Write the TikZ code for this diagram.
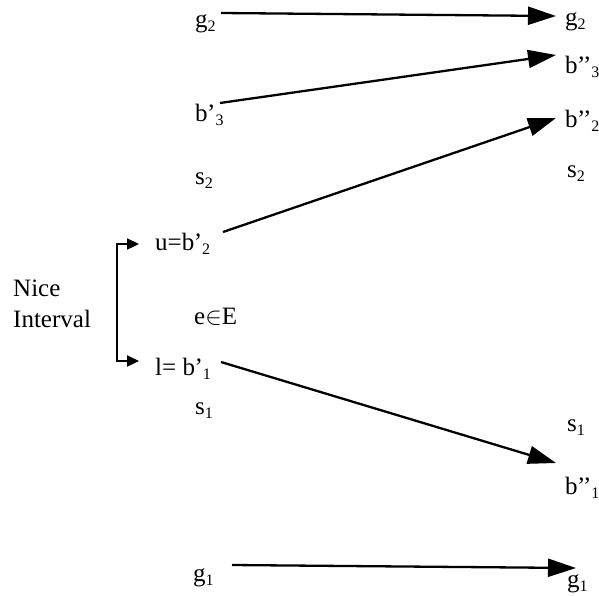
\documentclass[tikz,border=0pt]{standalone}
\usepackage{fontspec}
\setmainfont{Liberation Serif}
\usetikzlibrary{arrows.meta}
\newcommand{\sbx}[1]{\raisebox{-0.42ex}{\fontsize{16}{16}\selectfont #1}}
\newcommand{\pr}{\kern-0.5pt’}
\newcommand{\ppr}{\kern-0.5pt’\kern-2.5pt’}
\tikzset{
  lab/.style={anchor=base west,inner sep=0pt,font=\fontsize{25}{28}\selectfont},
  bigarr/.style={line width=2.3pt,-{Triangle[length=28pt,width=18pt]}},
  smallarr/.style={line width=2.3pt,-{Triangle[length=12pt,width=11pt]}},
}
\begin{document}
\begin{tikzpicture}[x=1pt,y=-1pt]
\useasboundingbox (0,0) rectangle (599,595);
% left column
\node[lab] (lg2) at (195,27) {g\sbx{2}};
\node[lab] (lb3) at (195,121) {b\pr\sbx{3}};
\node[lab] (ls2) at (195,184) {s\sbx{2}};
\node[lab] (lu) at (155,250) {u=b\pr\sbx{2}};
\node[lab] (le) at (194,324) {e$\in$E};
\node[lab] (ll) at (155,375) {l= b\pr\sbx{1}};
\node[lab] (ls1) at (195,414) {s\sbx{1}};
\node[lab] (lg1) at (193,581) {g\sbx{1}};
% Nice interval
\node[lab] (nice) at (13,296) {Nice};
\node[lab] (intv) at (13,327) {Interval};
% right column
\node[lab] (rg2) at (565,25) {g\sbx{2}};
\node[lab] (rb3) at (565,73) {b\ppr\sbx{3}};
\node[lab] (rb2) at (565,127) {b\ppr\sbx{2}};
\node[lab] (rs2) at (567,177) {s\sbx{2}};
\node[lab] (rs1) at (567,431) {s\sbx{1}};
\node[lab] (rb1) at (565,494) {b\ppr\sbx{1}};
\node[lab] (rg1) at (567,587) {g\sbx{1}};
% connector end points
\coordinate (g2a) at (221,13);
\coordinate (g2b) at (556,16);
\coordinate (b3a) at (220,103);
\coordinate (b3b) at (556,55);
\coordinate (b2a) at (223,232);
\coordinate (b2b) at (556,118);
\coordinate (b1a) at (221,362);
\coordinate (b1b) at (556,463);
\coordinate (g1a) at (232,565);
\coordinate (g1b) at (576,568);
\coordinate (brt) at (117,244);
\coordinate (brb) at (117,361);
\coordinate (brte) at (139,244);
\coordinate (brbe) at (139,361);
\draw[bigarr] (g2a) -- (g2b);
\draw[bigarr] (b3a) -- (b3b);
\draw[bigarr] (b2a) -- (b2b);
\draw[bigarr] (b1a) -- (b1b);
\draw[bigarr] (g1a) -- (g1b);
\draw[line width=2.3pt] (brt) -- (brb);
\draw[smallarr] ([xshift=-1.15pt]brt) -- (brte);
\draw[smallarr] ([xshift=-1.15pt]brb) -- (brbe);
\end{tikzpicture}
\end{document}
